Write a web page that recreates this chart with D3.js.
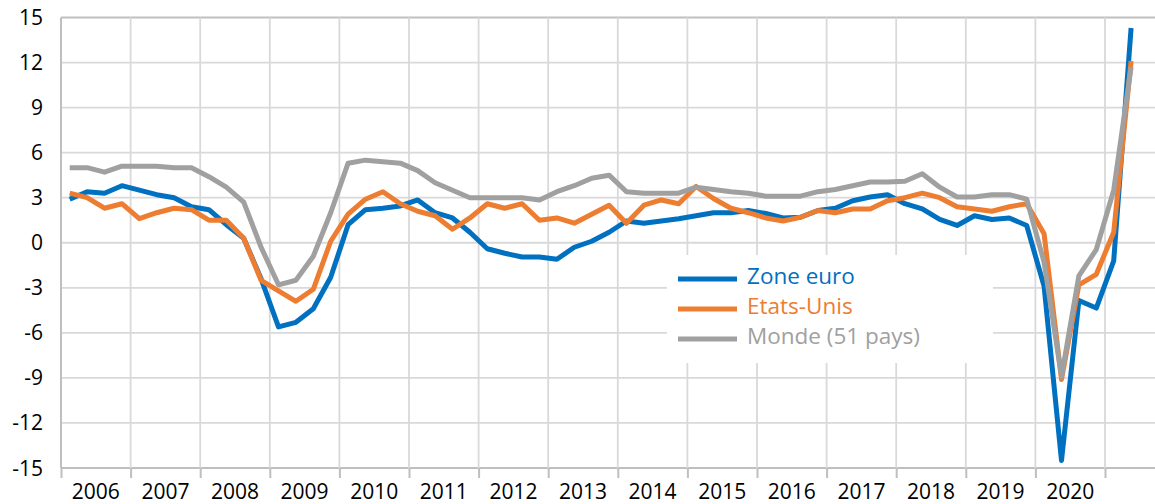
<!DOCTYPE html>
<html>
<head>
<meta charset="utf-8">
<script src="https://cdn.jsdelivr.net/npm/d3@7"></script>
<style>
	body { margin: 0; background: #fff; }
	svg { display: block; font-family: 'Open Sans', sans-serif; }
</style>
</head>
<body>
<div id="chart"></div>
<script>
// quarterly values, 2006 Q1 .. 2021 Q2
const years = d3.range(2006, 2021)
const yTicks = d3.range(-15, 16, 3)

const zoneEuro = [
	2.9, 3.4, 3.3, 3.8, 3.5, 3.2, 3.0, 2.4, 2.2, 1.2, 0.3, -2.4, -5.6, -5.3, -4.4, -2.3,
	1.2, 2.2, 2.3, 2.45, 2.85, 2.0, 1.65, 0.7, -0.4, -0.7, -0.95, -0.95, -1.1, -0.3, 0.1, 0.7,
	1.45, 1.3, 1.45, 1.6, 1.8, 2.0, 2.0, 2.15, 1.95, 1.65, 1.7, 2.15, 2.3, 2.8, 3.05, 3.2,
	2.6, 2.25, 1.55, 1.15, 1.8, 1.55, 1.65, 1.15, -2.9, -14.5, -3.85, -4.35, -1.2, 14.3
]
const etatsUnis = [
	3.3, 3.0, 2.3, 2.6, 1.6, 2.0, 2.3, 2.2, 1.5, 1.5, 0.3, -2.5, -3.2, -3.9, -3.1, 0.1,
	1.9, 2.9, 3.4, 2.6, 2.1, 1.8, 0.9, 1.65, 2.6, 2.3, 2.6, 1.5, 1.65, 1.3, 1.9, 2.5,
	1.3, 2.5, 2.85, 2.6, 3.75, 2.95, 2.3, 2.0, 1.65, 1.45, 1.7, 2.15, 2.0, 2.25, 2.25, 2.8,
	3.0, 3.3, 3.0, 2.4, 2.25, 2.1, 2.4, 2.6, 0.6, -9.1, -2.8, -2.1, 0.7, 12.1
]
const monde = [
	5.0, 5.0, 4.7, 5.1, 5.1, 5.1, 5.0, 5.0, 4.4, 3.7, 2.7, -0.3, -2.8, -2.5, -0.9, 2.0,
	5.3, 5.5, 5.4, 5.3, 4.8, 4.0, 3.5, 3.0, 3.0, 3.0, 3.0, 2.85, 3.4, 3.8, 4.3, 4.5,
	3.4, 3.3, 3.3, 3.3, 3.7, 3.55, 3.4, 3.3, 3.1, 3.1, 3.1, 3.4, 3.55, 3.8, 4.05, 4.05,
	4.1, 4.6, 3.7, 3.05, 3.05, 3.2, 3.2, 2.9, -1.3, -8.9, -2.2, -0.45, 3.5, 11.7
]

const seriesNames = ['Zone euro', 'Etats-Unis', 'Monde (51 pays)']
const seriesColors = ['#0070c0', '#ed7d31', '#a0a0a0']
const series = [zoneEuro, etatsUnis, monde]

const W = 1155, H = 504
const svg = d3.select('#chart').append('svg').attr('width', W).attr('height', H)

const x = d3.scaleLinear().domain([2006, 2021]).range([61, 1105])
const y = d3.scaleLinear().domain([-15, 15]).range([468, 17.5])
const xq = i => x(2006 + (i + 0.5) / 4)

// grid
svg.append('g').selectAll('line').data(yTicks).join('line')
	.attr('x1', x(2006)).attr('x2', W)
	.attr('y1', d => y(d)).attr('y2', d => y(d))
	.attr('stroke', d => (d === 15 || d === -15) ? '#bfbfbf' : '#d9d9d9')
	.attr('stroke-width', 1.8)

svg.append('g').selectAll('line').data(d3.range(2007, 2022)).join('line')
	.attr('x1', d => x(d)).attr('x2', d => x(d))
	.attr('y1', y(15)).attr('y2', y(-15))
	.attr('stroke', '#d9d9d9').attr('stroke-width', 1.8)

// axes
svg.append('line')
	.attr('x1', x(2006)).attr('x2', x(2006)).attr('y1', y(15)).attr('y2', y(-15))
	.attr('stroke', '#bfbfbf').attr('stroke-width', 2)

const xAxis = svg.append('g')
	.attr('transform', `translate(0,${y(-15)})`)
	.call(d3.axisBottom(x).tickValues(d3.range(2006, 2022)).tickSize(10).tickFormat(''))
xAxis.select('.domain').remove()
xAxis.selectAll('.tick line').attr('stroke', '#bfbfbf').attr('stroke-width', 2)

svg.append('g').selectAll('text').data(years).join('text')
	.attr('x', d => x(d + 0.5)).attr('y', 499)
	.attr('text-anchor', 'middle')
	.attr('font-size', 21).attr('fill', '#000')
	.text(d => d)

svg.append('g').selectAll('text').data(yTicks).join('text')
	.attr('x', 43).attr('y', d => y(d) + 7.5)
	.attr('text-anchor', 'end')
	.attr('font-size', 21).attr('fill', '#000')
	.text(d => d)

// legend box (under the lines)
const legend = svg.append('g')
legend.append('rect')
	.attr('x', 667).attr('y', 255).attr('width', 326).attr('height', 108)
	.attr('fill', '#fff')

seriesNames.forEach((name, i) => {
	const ly = 279 + i * 30
	legend.append('line')
		.attr('x1', 678).attr('x2', 737).attr('y1', ly).attr('y2', ly)
		.attr('stroke', seriesColors[i]).attr('stroke-width', 5)
	legend.append('text')
		.attr('x', 747).attr('y', ly + 4.5)
		.attr('font-size', 22.5).attr('fill', seriesColors[i])
		.text(name)
})

// lines
const line = d3.line().x((d, i) => xq(i)).y(d => y(d))
svg.append('g').selectAll('path').data(series).join('path')
	.attr('d', line)
	.attr('fill', 'none')
	.attr('stroke', (d, i) => seriesColors[i])
	.attr('stroke-width', 5)
	.attr('stroke-linejoin', 'round')
</script>
</body>
</html>
